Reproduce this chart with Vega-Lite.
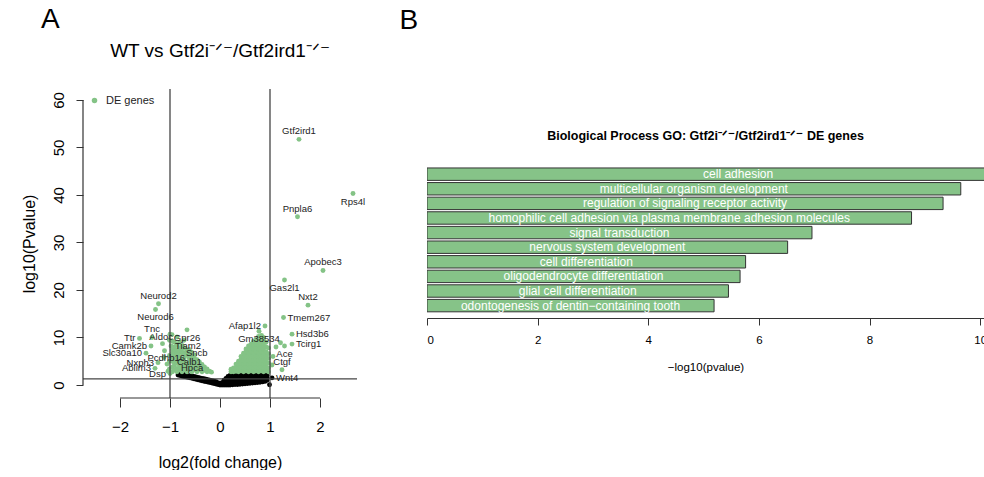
{
  "$schema": "https://vega.github.io/schema/vega-lite/v6.json",
  "padding": {"left": 20, "top": 6, "right": 0, "bottom": 0},
  "background": "white",
  "config": {
    "view": {"stroke": null},
    "font": "Liberation Sans",
    "title": {"fontWeight": "normal", "color": "black", "font": "Liberation Sans"},
    "axis": {"labelColor": "black", "titleColor": "black", "tickColor": "#333", "domainColor": "#333", "grid": false, "titleFontWeight": "normal", "labelFont": "Liberation Sans", "titleFont": "Liberation Sans"}
  },
  "datasets": {
    "genes": [
      {"lfc": -0.84, "lp": 2.1, "de": "ns"},
      {"lfc": -0.80, "lp": 2.0, "de": "ns"}, {"lfc": -0.80, "lp": 2.3, "de": "ns"},
      {"lfc": -0.76, "lp": 1.9, "de": "ns"}, {"lfc": -0.76, "lp": 2.2, "de": "ns"},
      {"lfc": -0.72, "lp": 1.8, "de": "ns"}, {"lfc": -0.72, "lp": 2.2, "de": "ns"},
      {"lfc": -0.68, "lp": 1.7, "de": "ns"}, {"lfc": -0.68, "lp": 2.1, "de": "ns"},
      {"lfc": -0.64, "lp": 1.6, "de": "ns"}, {"lfc": -0.64, "lp": 2.0, "de": "ns"},
      {"lfc": -0.60, "lp": 1.5, "de": "ns"}, {"lfc": -0.60, "lp": 1.9, "de": "ns"},
      {"lfc": -0.56, "lp": 1.4, "de": "ns"}, {"lfc": -0.56, "lp": 1.9, "de": "ns"},
      {"lfc": -0.52, "lp": 1.3, "de": "ns"}, {"lfc": -0.52, "lp": 1.8, "de": "ns"},
      {"lfc": -0.48, "lp": 1.2, "de": "ns"}, {"lfc": -0.48, "lp": 1.7, "de": "ns"},
      {"lfc": -0.44, "lp": 1.1, "de": "ns"}, {"lfc": -0.44, "lp": 1.6, "de": "ns"},
      {"lfc": -0.40, "lp": 1.0, "de": "ns"}, {"lfc": -0.40, "lp": 1.5, "de": "ns"},
      {"lfc": -0.36, "lp": 0.9, "de": "ns"}, {"lfc": -0.36, "lp": 1.4, "de": "ns"},
      {"lfc": -0.32, "lp": 0.8, "de": "ns"}, {"lfc": -0.32, "lp": 1.3, "de": "ns"},
      {"lfc": -0.28, "lp": 0.7, "de": "ns"}, {"lfc": -0.28, "lp": 1.2, "de": "ns"},
      {"lfc": -0.24, "lp": 0.6, "de": "ns"}, {"lfc": -0.24, "lp": 1.1, "de": "ns"},
      {"lfc": -0.20, "lp": 0.5, "de": "ns"}, {"lfc": -0.20, "lp": 1.0, "de": "ns"},
      {"lfc": -0.16, "lp": 0.4, "de": "ns"}, {"lfc": -0.16, "lp": 0.9, "de": "ns"},
      {"lfc": -0.12, "lp": 0.3, "de": "ns"}, {"lfc": -0.12, "lp": 0.8, "de": "ns"},
      {"lfc": -0.08, "lp": 0.2, "de": "ns"}, {"lfc": -0.08, "lp": 0.7, "de": "ns"},
      {"lfc": -0.04, "lp": 0.1, "de": "ns"}, {"lfc": -0.04, "lp": 0.5, "de": "ns"},
      {"lfc": 0.00, "lp": 0.0, "de": "ns"}, {"lfc": 0.00, "lp": 0.3, "de": "ns"},
      {"lfc": 0.04, "lp": 0.0, "de": "ns"}, {"lfc": 0.04, "lp": 0.5, "de": "ns"},
      {"lfc": 0.08, "lp": 0.0, "de": "ns"}, {"lfc": 0.08, "lp": 0.5, "de": "ns"}, {"lfc": 0.08, "lp": 1.0, "de": "ns"},
      {"lfc": 0.12, "lp": 0.0, "de": "ns"}, {"lfc": 0.12, "lp": 0.5, "de": "ns"}, {"lfc": 0.12, "lp": 1.0, "de": "ns"}, {"lfc": 0.12, "lp": 1.4, "de": "ns"},
      {"lfc": 0.16, "lp": 0.0, "de": "ns"}, {"lfc": 0.16, "lp": 0.5, "de": "ns"}, {"lfc": 0.16, "lp": 1.0, "de": "ns"}, {"lfc": 0.16, "lp": 1.5, "de": "ns"}, {"lfc": 0.16, "lp": 1.8, "de": "ns"},
      {"lfc": 0.20, "lp": 0.0, "de": "ns"}, {"lfc": 0.20, "lp": 0.5, "de": "ns"}, {"lfc": 0.20, "lp": 1.0, "de": "ns"}, {"lfc": 0.20, "lp": 1.5, "de": "ns"}, {"lfc": 0.20, "lp": 2.0, "de": "ns"},
      {"lfc": 0.25, "lp": 0.05, "de": "ns"}, {"lfc": 0.25, "lp": 0.55, "de": "ns"}, {"lfc": 0.25, "lp": 1.05, "de": "ns"}, {"lfc": 0.25, "lp": 1.55, "de": "ns"}, {"lfc": 0.25, "lp": 2.05, "de": "ns"},
      {"lfc": 0.30, "lp": 0.1, "de": "ns"}, {"lfc": 0.30, "lp": 0.6, "de": "ns"}, {"lfc": 0.30, "lp": 1.1, "de": "ns"}, {"lfc": 0.30, "lp": 1.6, "de": "ns"}, {"lfc": 0.30, "lp": 2.1, "de": "ns"},
      {"lfc": 0.35, "lp": 0.1, "de": "ns"}, {"lfc": 0.35, "lp": 0.6, "de": "ns"}, {"lfc": 0.35, "lp": 1.1, "de": "ns"}, {"lfc": 0.35, "lp": 1.6, "de": "ns"}, {"lfc": 0.35, "lp": 2.1, "de": "ns"},
      {"lfc": 0.40, "lp": 0.15, "de": "ns"}, {"lfc": 0.40, "lp": 0.65, "de": "ns"}, {"lfc": 0.40, "lp": 1.15, "de": "ns"}, {"lfc": 0.40, "lp": 1.65, "de": "ns"}, {"lfc": 0.40, "lp": 2.15, "de": "ns"},
      {"lfc": 0.45, "lp": 0.2, "de": "ns"}, {"lfc": 0.45, "lp": 0.7, "de": "ns"}, {"lfc": 0.45, "lp": 1.2, "de": "ns"}, {"lfc": 0.45, "lp": 1.7, "de": "ns"}, {"lfc": 0.45, "lp": 2.2, "de": "ns"},
      {"lfc": 0.50, "lp": 0.25, "de": "ns"}, {"lfc": 0.50, "lp": 0.75, "de": "ns"}, {"lfc": 0.50, "lp": 1.25, "de": "ns"}, {"lfc": 0.50, "lp": 1.75, "de": "ns"}, {"lfc": 0.50, "lp": 2.2, "de": "ns"},
      {"lfc": 0.55, "lp": 0.3, "de": "ns"}, {"lfc": 0.55, "lp": 0.8, "de": "ns"}, {"lfc": 0.55, "lp": 1.3, "de": "ns"}, {"lfc": 0.55, "lp": 1.8, "de": "ns"}, {"lfc": 0.55, "lp": 2.2, "de": "ns"},
      {"lfc": 0.60, "lp": 0.35, "de": "ns"}, {"lfc": 0.60, "lp": 0.85, "de": "ns"}, {"lfc": 0.60, "lp": 1.35, "de": "ns"}, {"lfc": 0.60, "lp": 1.85, "de": "ns"}, {"lfc": 0.60, "lp": 2.25, "de": "ns"},
      {"lfc": 0.65, "lp": 0.4, "de": "ns"}, {"lfc": 0.65, "lp": 0.9, "de": "ns"}, {"lfc": 0.65, "lp": 1.4, "de": "ns"}, {"lfc": 0.65, "lp": 1.9, "de": "ns"}, {"lfc": 0.65, "lp": 2.25, "de": "ns"},
      {"lfc": 0.70, "lp": 0.45, "de": "ns"}, {"lfc": 0.70, "lp": 0.95, "de": "ns"}, {"lfc": 0.70, "lp": 1.45, "de": "ns"}, {"lfc": 0.70, "lp": 1.95, "de": "ns"}, {"lfc": 0.70, "lp": 2.3, "de": "ns"},
      {"lfc": 0.75, "lp": 0.5, "de": "ns"}, {"lfc": 0.75, "lp": 1.0, "de": "ns"}, {"lfc": 0.75, "lp": 1.5, "de": "ns"}, {"lfc": 0.75, "lp": 2.0, "de": "ns"}, {"lfc": 0.75, "lp": 2.3, "de": "ns"},
      {"lfc": 0.80, "lp": 0.55, "de": "ns"}, {"lfc": 0.80, "lp": 1.05, "de": "ns"}, {"lfc": 0.80, "lp": 1.55, "de": "ns"}, {"lfc": 0.80, "lp": 2.05, "de": "ns"}, {"lfc": 0.80, "lp": 2.3, "de": "ns"},
      {"lfc": 0.85, "lp": 0.65, "de": "ns"}, {"lfc": 0.85, "lp": 1.15, "de": "ns"}, {"lfc": 0.85, "lp": 1.65, "de": "ns"}, {"lfc": 0.85, "lp": 2.15, "de": "ns"},
      {"lfc": 0.90, "lp": 0.75, "de": "ns"}, {"lfc": 0.90, "lp": 1.25, "de": "ns"}, {"lfc": 0.90, "lp": 1.75, "de": "ns"}, {"lfc": 0.90, "lp": 2.2, "de": "ns"},
      {"lfc": 0.94, "lp": 1.0, "de": "ns"}, {"lfc": 0.94, "lp": 1.5, "de": "ns"}, {"lfc": 0.94, "lp": 2.0, "de": "ns"},
      {"lfc": 0.99, "lp": 0.05, "de": "ns"},
      {"lfc": 1.04, "lp": 1.5, "de": "ns", "gene": "Wnt4", "pos": "right"},

      {"lfc": -1.15, "lp": 8.7, "de": "DE genes"}, {"lfc": -1.11, "lp": 7.2, "de": "DE genes"}, {"lfc": -1.06, "lp": 4.4, "de": "DE genes"}, {"lfc": -1.04, "lp": 2.9, "de": "DE genes"}, {"lfc": -1.12, "lp": 5.8, "de": "DE genes"},
      {"lfc": -1.01, "lp": 3.4, "de": "DE genes"}, {"lfc": -1.01, "lp": 5.0, "de": "DE genes"}, {"lfc": -1.01, "lp": 6.2, "de": "DE genes"}, {"lfc": -1.01, "lp": 9.4, "de": "DE genes"}, {"lfc": -1.0, "lp": 10.7, "de": "DE genes"},
      {"lfc": -0.95, "lp": 2.8, "de": "DE genes"}, {"lfc": -0.95, "lp": 3.8, "de": "DE genes"}, {"lfc": -0.95, "lp": 5.8, "de": "DE genes"}, {"lfc": -0.95, "lp": 6.8, "de": "DE genes"}, {"lfc": -0.95, "lp": 7.4, "de": "DE genes"}, {"lfc": -0.95, "lp": 9.2, "de": "DE genes"}, {"lfc": -0.96, "lp": 10.6, "de": "DE genes"},
      {"lfc": -0.91, "lp": 3.2, "de": "DE genes"}, {"lfc": -0.91, "lp": 4.2, "de": "DE genes"}, {"lfc": -0.91, "lp": 5.2, "de": "DE genes"}, {"lfc": -0.91, "lp": 6.2, "de": "DE genes"}, {"lfc": -0.91, "lp": 7.2, "de": "DE genes"}, {"lfc": -0.91, "lp": 8.0, "de": "DE genes"}, {"lfc": -0.91, "lp": 9.0, "de": "DE genes"},
      {"lfc": -0.86, "lp": 2.8, "de": "DE genes"}, {"lfc": -0.86, "lp": 4.6, "de": "DE genes"}, {"lfc": -0.86, "lp": 5.6, "de": "DE genes"}, {"lfc": -0.86, "lp": 6.6, "de": "DE genes"}, {"lfc": -0.86, "lp": 7.4, "de": "DE genes"}, {"lfc": -0.86, "lp": 8.4, "de": "DE genes"},
      {"lfc": -0.81, "lp": 3.2, "de": "DE genes"}, {"lfc": -0.81, "lp": 4.1, "de": "DE genes"}, {"lfc": -0.81, "lp": 5.0, "de": "DE genes"}, {"lfc": -0.81, "lp": 6.0, "de": "DE genes"}, {"lfc": -0.81, "lp": 7.0, "de": "DE genes"}, {"lfc": -0.81, "lp": 7.8, "de": "DE genes"}, {"lfc": -0.81, "lp": 9.0, "de": "DE genes"},
      {"lfc": -0.76, "lp": 2.8, "de": "DE genes"}, {"lfc": -0.76, "lp": 3.7, "de": "DE genes"}, {"lfc": -0.76, "lp": 4.6, "de": "DE genes"}, {"lfc": -0.76, "lp": 5.4, "de": "DE genes"}, {"lfc": -0.76, "lp": 7.6, "de": "DE genes"}, {"lfc": -0.76, "lp": 8.3, "de": "DE genes"},
      {"lfc": -0.71, "lp": 3.2, "de": "DE genes"}, {"lfc": -0.71, "lp": 4.1, "de": "DE genes"}, {"lfc": -0.71, "lp": 5.0, "de": "DE genes"}, {"lfc": -0.71, "lp": 5.9, "de": "DE genes"}, {"lfc": -0.71, "lp": 6.8, "de": "DE genes"}, {"lfc": -0.71, "lp": 7.8, "de": "DE genes"}, {"lfc": -0.72, "lp": 9.4, "de": "DE genes"},
      {"lfc": -0.66, "lp": 2.8, "de": "DE genes"}, {"lfc": -0.66, "lp": 3.6, "de": "DE genes"}, {"lfc": -0.66, "lp": 4.5, "de": "DE genes"}, {"lfc": -0.66, "lp": 6.4, "de": "DE genes"}, {"lfc": -0.66, "lp": 7.2, "de": "DE genes"},
      {"lfc": -0.61, "lp": 3.2, "de": "DE genes"}, {"lfc": -0.61, "lp": 4.0, "de": "DE genes"}, {"lfc": -0.61, "lp": 4.8, "de": "DE genes"}, {"lfc": -0.61, "lp": 6.6, "de": "DE genes"}, {"lfc": -0.62, "lp": 7.5, "de": "DE genes"},
      {"lfc": -0.56, "lp": 2.8, "de": "DE genes"}, {"lfc": -0.56, "lp": 3.6, "de": "DE genes"}, {"lfc": -0.56, "lp": 4.4, "de": "DE genes"}, {"lfc": -0.56, "lp": 5.2, "de": "DE genes"}, {"lfc": -0.56, "lp": 6.0, "de": "DE genes"}, {"lfc": -0.57, "lp": 6.9, "de": "DE genes"},
      {"lfc": -0.51, "lp": 3.2, "de": "DE genes"}, {"lfc": -0.51, "lp": 4.0, "de": "DE genes"}, {"lfc": -0.51, "lp": 4.8, "de": "DE genes"}, {"lfc": -0.51, "lp": 5.6, "de": "DE genes"}, {"lfc": -0.51, "lp": 6.3, "de": "DE genes"},
      {"lfc": -0.46, "lp": 2.8, "de": "DE genes"}, {"lfc": -0.46, "lp": 3.6, "de": "DE genes"}, {"lfc": -0.46, "lp": 4.4, "de": "DE genes"}, {"lfc": -0.46, "lp": 5.3, "de": "DE genes"},
      {"lfc": -0.41, "lp": 3.2, "de": "DE genes"}, {"lfc": -0.41, "lp": 4.0, "de": "DE genes"}, {"lfc": -0.41, "lp": 4.8, "de": "DE genes"},
      {"lfc": -0.36, "lp": 2.8, "de": "DE genes"}, {"lfc": -0.36, "lp": 3.6, "de": "DE genes"}, {"lfc": -0.36, "lp": 4.3, "de": "DE genes"},
      {"lfc": -0.31, "lp": 3.1, "de": "DE genes"}, {"lfc": -0.31, "lp": 3.8, "de": "DE genes"},
      {"lfc": -0.26, "lp": 2.8, "de": "DE genes"}, {"lfc": -0.26, "lp": 3.4, "de": "DE genes"},
      {"lfc": -0.21, "lp": 2.9, "de": "DE genes"}, {"lfc": -0.17, "lp": 2.7, "de": "DE genes"},

      {"lfc": 0.22, "lp": 2.8, "de": "DE genes"}, {"lfc": 0.22, "lp": 3.3, "de": "DE genes"},
      {"lfc": 0.27, "lp": 2.8, "de": "DE genes"}, {"lfc": 0.27, "lp": 3.6, "de": "DE genes"},
      {"lfc": 0.32, "lp": 2.9, "de": "DE genes"}, {"lfc": 0.32, "lp": 3.7, "de": "DE genes"}, {"lfc": 0.32, "lp": 4.4, "de": "DE genes"},
      {"lfc": 0.37, "lp": 2.8, "de": "DE genes"}, {"lfc": 0.37, "lp": 3.6, "de": "DE genes"}, {"lfc": 0.37, "lp": 4.4, "de": "DE genes"}, {"lfc": 0.37, "lp": 5.0, "de": "DE genes"},
      {"lfc": 0.42, "lp": 3.0, "de": "DE genes"}, {"lfc": 0.42, "lp": 3.8, "de": "DE genes"}, {"lfc": 0.42, "lp": 4.6, "de": "DE genes"}, {"lfc": 0.42, "lp": 5.4, "de": "DE genes"}, {"lfc": 0.42, "lp": 6.0, "de": "DE genes"},
      {"lfc": 0.47, "lp": 2.8, "de": "DE genes"}, {"lfc": 0.47, "lp": 3.6, "de": "DE genes"}, {"lfc": 0.47, "lp": 4.4, "de": "DE genes"}, {"lfc": 0.47, "lp": 5.2, "de": "DE genes"}, {"lfc": 0.47, "lp": 6.0, "de": "DE genes"}, {"lfc": 0.47, "lp": 6.7, "de": "DE genes"},
      {"lfc": 0.52, "lp": 3.0, "de": "DE genes"}, {"lfc": 0.52, "lp": 3.8, "de": "DE genes"}, {"lfc": 0.52, "lp": 4.6, "de": "DE genes"}, {"lfc": 0.52, "lp": 5.4, "de": "DE genes"}, {"lfc": 0.52, "lp": 6.2, "de": "DE genes"}, {"lfc": 0.52, "lp": 7.0, "de": "DE genes"}, {"lfc": 0.52, "lp": 7.6, "de": "DE genes"},
      {"lfc": 0.57, "lp": 2.8, "de": "DE genes"}, {"lfc": 0.57, "lp": 3.6, "de": "DE genes"}, {"lfc": 0.57, "lp": 4.4, "de": "DE genes"}, {"lfc": 0.57, "lp": 5.2, "de": "DE genes"}, {"lfc": 0.57, "lp": 6.0, "de": "DE genes"}, {"lfc": 0.57, "lp": 6.8, "de": "DE genes"}, {"lfc": 0.57, "lp": 7.6, "de": "DE genes"}, {"lfc": 0.57, "lp": 8.2, "de": "DE genes"},
      {"lfc": 0.62, "lp": 3.0, "de": "DE genes"}, {"lfc": 0.62, "lp": 3.8, "de": "DE genes"}, {"lfc": 0.62, "lp": 4.6, "de": "DE genes"}, {"lfc": 0.62, "lp": 5.4, "de": "DE genes"}, {"lfc": 0.62, "lp": 6.2, "de": "DE genes"}, {"lfc": 0.62, "lp": 7.0, "de": "DE genes"}, {"lfc": 0.62, "lp": 7.8, "de": "DE genes"}, {"lfc": 0.62, "lp": 8.6, "de": "DE genes"},
      {"lfc": 0.67, "lp": 2.8, "de": "DE genes"}, {"lfc": 0.67, "lp": 3.6, "de": "DE genes"}, {"lfc": 0.67, "lp": 4.4, "de": "DE genes"}, {"lfc": 0.67, "lp": 5.2, "de": "DE genes"}, {"lfc": 0.67, "lp": 6.0, "de": "DE genes"}, {"lfc": 0.67, "lp": 6.8, "de": "DE genes"}, {"lfc": 0.67, "lp": 7.6, "de": "DE genes"}, {"lfc": 0.67, "lp": 8.4, "de": "DE genes"}, {"lfc": 0.67, "lp": 9.2, "de": "DE genes"},
      {"lfc": 0.72, "lp": 3.0, "de": "DE genes"}, {"lfc": 0.72, "lp": 3.8, "de": "DE genes"}, {"lfc": 0.72, "lp": 4.6, "de": "DE genes"}, {"lfc": 0.72, "lp": 5.4, "de": "DE genes"}, {"lfc": 0.72, "lp": 6.2, "de": "DE genes"}, {"lfc": 0.72, "lp": 7.0, "de": "DE genes"}, {"lfc": 0.72, "lp": 7.8, "de": "DE genes"}, {"lfc": 0.72, "lp": 8.6, "de": "DE genes"}, {"lfc": 0.72, "lp": 9.6, "de": "DE genes"},
      {"lfc": 0.77, "lp": 2.8, "de": "DE genes"}, {"lfc": 0.77, "lp": 3.6, "de": "DE genes"}, {"lfc": 0.77, "lp": 4.4, "de": "DE genes"}, {"lfc": 0.77, "lp": 5.2, "de": "DE genes"}, {"lfc": 0.77, "lp": 6.0, "de": "DE genes"}, {"lfc": 0.77, "lp": 6.8, "de": "DE genes"}, {"lfc": 0.77, "lp": 7.6, "de": "DE genes"}, {"lfc": 0.77, "lp": 8.4, "de": "DE genes"}, {"lfc": 0.77, "lp": 9.2, "de": "DE genes"}, {"lfc": 0.77, "lp": 10.2, "de": "DE genes"},
      {"lfc": 0.82, "lp": 3.0, "de": "DE genes"}, {"lfc": 0.82, "lp": 3.8, "de": "DE genes"}, {"lfc": 0.82, "lp": 4.6, "de": "DE genes"}, {"lfc": 0.82, "lp": 5.4, "de": "DE genes"}, {"lfc": 0.82, "lp": 6.2, "de": "DE genes"}, {"lfc": 0.82, "lp": 7.0, "de": "DE genes"}, {"lfc": 0.82, "lp": 7.8, "de": "DE genes"}, {"lfc": 0.82, "lp": 8.6, "de": "DE genes"}, {"lfc": 0.82, "lp": 9.4, "de": "DE genes"}, {"lfc": 0.83, "lp": 10.4, "de": "DE genes"},
      {"lfc": 0.87, "lp": 2.8, "de": "DE genes"}, {"lfc": 0.87, "lp": 3.6, "de": "DE genes"}, {"lfc": 0.87, "lp": 4.4, "de": "DE genes"}, {"lfc": 0.87, "lp": 5.2, "de": "DE genes"}, {"lfc": 0.87, "lp": 6.0, "de": "DE genes"}, {"lfc": 0.87, "lp": 6.8, "de": "DE genes"}, {"lfc": 0.87, "lp": 7.6, "de": "DE genes"}, {"lfc": 0.87, "lp": 8.4, "de": "DE genes"}, {"lfc": 0.87, "lp": 9.2, "de": "DE genes"}, {"lfc": 0.87, "lp": 10.0, "de": "DE genes"},
      {"lfc": 0.92, "lp": 3.0, "de": "DE genes"}, {"lfc": 0.92, "lp": 3.8, "de": "DE genes"}, {"lfc": 0.92, "lp": 4.6, "de": "DE genes"}, {"lfc": 0.92, "lp": 5.4, "de": "DE genes"}, {"lfc": 0.92, "lp": 6.2, "de": "DE genes"}, {"lfc": 0.92, "lp": 7.0, "de": "DE genes"}, {"lfc": 0.92, "lp": 8.0, "de": "DE genes"}, {"lfc": 0.92, "lp": 9.0, "de": "DE genes"},
      {"lfc": 0.97, "lp": 2.8, "de": "DE genes"}, {"lfc": 0.97, "lp": 3.6, "de": "DE genes"}, {"lfc": 0.97, "lp": 4.6, "de": "DE genes"}, {"lfc": 0.97, "lp": 5.6, "de": "DE genes"}, {"lfc": 0.97, "lp": 6.6, "de": "DE genes"}, {"lfc": 0.97, "lp": 7.8, "de": "DE genes"},
      {"lfc": 1.04, "lp": 4.2, "de": "DE genes"}, {"lfc": 1.06, "lp": 6.0, "de": "DE genes"}, {"lfc": 1.12, "lp": 8.0, "de": "DE genes"}, {"lfc": 1.21, "lp": 8.9, "de": "DE genes"},

      {"lfc": 1.58, "lp": 51.7, "de": "DE genes", "gene": "Gtf2ird1", "pos": "above"},
      {"lfc": 2.66, "lp": 40.3, "de": "DE genes", "gene": "Rps4l", "pos": "below"},
      {"lfc": 1.55, "lp": 35.4, "de": "DE genes", "gene": "Pnpla6", "pos": "above"},
      {"lfc": 2.06, "lp": 24.1, "de": "DE genes", "gene": "Apobec3", "pos": "above"},
      {"lfc": 1.29, "lp": 22.1, "de": "DE genes", "gene": "Gas2l1", "pos": "below"},
      {"lfc": 1.76, "lp": 16.8, "de": "DE genes", "gene": "Nxt2", "pos": "above"},
      {"lfc": 1.27, "lp": 14.2, "de": "DE genes", "gene": "Tmem267", "pos": "right"},
      {"lfc": 1.44, "lp": 10.7, "de": "DE genes", "gene": "Hsd3b6", "pos": "right"},
      {"lfc": 1.44, "lp": 8.6, "de": "DE genes", "gene": "Tcirg1", "pos": "right"},
      {"lfc": 1.29, "lp": 8.2, "de": "DE genes", "gene": "Ace", "pos": "below"},
      {"lfc": 1.24, "lp": 3.2, "de": "DE genes", "gene": "Ctgf", "pos": "above"},
      {"lfc": 0.90, "lp": 12.4, "de": "DE genes", "gene": "Afap1l2", "pos": "left"},
      {"lfc": 0.78, "lp": 11.3, "de": "DE genes", "gene": "Gm38534", "pos": "below"},
      {"lfc": -1.23, "lp": 17.1, "de": "DE genes", "gene": "Neurod2", "pos": "above"},
      {"lfc": -1.29, "lp": 15.9, "de": "DE genes", "gene": "Neurod6", "pos": "below"},
      {"lfc": -1.36, "lp": 10.0, "de": "DE genes", "gene": "Tnc", "pos": "above"},
      {"lfc": -1.61, "lp": 9.8, "de": "DE genes", "gene": "Ttr", "pos": "left"},
      {"lfc": -0.86, "lp": 10.1, "de": "DE genes", "gene": "Aldoc", "pos": "left"},
      {"lfc": -1.38, "lp": 8.2, "de": "DE genes", "gene": "Camk2b", "pos": "left"},
      {"lfc": -1.48, "lp": 6.7, "de": "DE genes", "gene": "Slc30a10", "pos": "left"},
      {"lfc": -1.24, "lp": 4.7, "de": "DE genes", "gene": "Nxph3", "pos": "left"},
      {"lfc": -1.30, "lp": 3.5, "de": "DE genes", "gene": "Ablim3", "pos": "left"},
      {"lfc": -1.00, "lp": 2.4, "de": "DE genes", "gene": "Dsp", "pos": "left"},
      {"lfc": -0.66, "lp": 11.6, "de": "DE genes", "gene": "Gpr26", "pos": "below"},
      {"lfc": -0.98, "lp": 8.2, "de": "DE genes", "gene": "Tiam2", "pos": "right"},
      {"lfc": -0.76, "lp": 6.8, "de": "DE genes", "gene": "Sncb", "pos": "right"},
      {"lfc": -0.62, "lp": 5.7, "de": "DE genes", "gene": "Pcdhb16", "pos": "left"},
      {"lfc": -0.94, "lp": 4.9, "de": "DE genes", "gene": "Calb1", "pos": "right"},
      {"lfc": -0.86, "lp": 3.5, "de": "DE genes", "gene": "Hpca", "pos": "right"}
    ],
    "go": [
      {"term": "cell adhesion", "nlp": 11.25},
      {"term": "multicellular organism development", "nlp": 9.65},
      {"term": "regulation of signaling receptor activity", "nlp": 9.33},
      {"term": "homophilic cell adhesion via plasma membrane adhesion molecules", "nlp": 8.76},
      {"term": "signal transduction", "nlp": 6.96},
      {"term": "nervous system development", "nlp": 6.52},
      {"term": "cell differentiation", "nlp": 5.76},
      {"term": "oligodendrocyte differentiation", "nlp": 5.66},
      {"term": "glial cell differentiation", "nlp": 5.45},
      {"term": "odontogenesis of dentin−containing tooth", "nlp": 5.19}
    ]
  },
  "spacing": 33,
  "hconcat": [
    {
      "title": {"text": "A", "fontSize": 28, "anchor": "start", "frame": "bounds", "offset": 8, "dx": 20},
      "vconcat": [
        {
          "width": 274,
          "height": 309,
          "title": {"text": "WT vs Gtf2i⁻ᐟ⁻/Gtf2ird1⁻ᐟ⁻", "fontSize": 19, "frame": "group", "anchor": "middle", "offset": 27},
          "data": {"name": "genes"},
          "layer": [
            {
              "mark": {"type": "circle", "size": 24, "opacity": 1},
              "encoding": {
                "x": {"field": "lfc", "type": "quantitative",
                  "scale": {"domain": [-2.74, 2.74], "nice": false, "zero": false},
                  "axis": {"values": [-2, -1, 0, 1, 2], "domain": false, "tickSize": 9, "tickColor": "#333", "labelFontSize": 15, "labelPadding": 12, "title": "log2(fold change)", "titleFontSize": 16, "titlePadding": 20}},
                "y": {"field": "lp", "type": "quantitative",
                  "scale": {"domain": [-2.74, 62.3], "nice": false, "zero": false},
                  "axis": {"values": [0, 10, 20, 30, 40, 50, 60], "domain": false, "tickSize": 7, "tickColor": "#333", "labelFontSize": 15, "labelAngle": -90, "labelAlign": "center", "labelBaseline": "bottom", "labelPadding": 10, "title": "log10(Pvalue)", "titleFontSize": 16, "titlePadding": 14}},
                "color": {"field": "de", "type": "nominal",
                  "scale": {"domain": ["DE genes", "ns"], "range": ["#84c386", "#000000"]},
                  "legend": {"orient": "none", "legendX": 6, "legendY": 6, "title": null, "values": ["DE genes"], "labelFontSize": 11, "symbolType": "circle", "symbolSize": 30, "padding": 0, "labelOffset": 6, "labelColor": "#222"}}
              }
            },
            {
              "data": {"values": [{"t": -1}, {"t": 1}]},
              "mark": {"type": "rule", "color": "#444", "strokeWidth": 1.3},
              "encoding": {"x": {"field": "t", "type": "quantitative"}}
            },
            {
              "data": {"values": [{"p": 1.3}]},
              "mark": {"type": "rule", "color": "#444", "strokeWidth": 1.3},
              "encoding": {"y": {"field": "p", "type": "quantitative"}}
            },
            {
              "data": {"values": [{"a": -2, "b": 2, "c": -2.74}]},
              "mark": {"type": "rule", "color": "#333", "strokeWidth": 1.2},
              "encoding": {"x": {"field": "a", "type": "quantitative"}, "x2": {"field": "b"}, "y": {"field": "c", "type": "quantitative"}}
            },
            {
              "data": {"values": [{"a": -2.74, "b": 0, "c": 60}]},
              "mark": {"type": "rule", "color": "#333", "strokeWidth": 1.2},
              "encoding": {"x": {"field": "a", "type": "quantitative"}, "y": {"field": "b", "type": "quantitative"}, "y2": {"field": "c"}}
            },
            {
              "transform": [{"filter": "datum.pos == 'above'"}],
              "mark": {"type": "text", "fontSize": 9.5, "color": "#222", "baseline": "bottom", "dy": -3},
              "encoding": {"x": {"field": "lfc", "type": "quantitative"}, "y": {"field": "lp", "type": "quantitative"}, "text": {"field": "gene"}}
            },
            {
              "transform": [{"filter": "datum.pos == 'below'"}],
              "mark": {"type": "text", "fontSize": 9.5, "color": "#222", "baseline": "top", "dy": 3},
              "encoding": {"x": {"field": "lfc", "type": "quantitative"}, "y": {"field": "lp", "type": "quantitative"}, "text": {"field": "gene"}}
            },
            {
              "transform": [{"filter": "datum.pos == 'left'"}],
              "mark": {"type": "text", "fontSize": 9.5, "color": "#222", "align": "right", "baseline": "middle", "dx": -4},
              "encoding": {"x": {"field": "lfc", "type": "quantitative"}, "y": {"field": "lp", "type": "quantitative"}, "text": {"field": "gene"}}
            },
            {
              "transform": [{"filter": "datum.pos == 'right'"}],
              "mark": {"type": "text", "fontSize": 9.5, "color": "#222", "align": "left", "baseline": "middle", "dx": 4},
              "encoding": {"x": {"field": "lfc", "type": "quantitative"}, "y": {"field": "lp", "type": "quantitative"}, "text": {"field": "gene"}}
            }
          ]
        }
      ]
    },
    {
      "title": {"text": "B", "fontSize": 28, "anchor": "start", "frame": "bounds", "offset": 54, "dx": -27},
      "vconcat": [
        {
          "width": 557,
          "height": 229,
          "title": {"text": "Biological Process GO: Gtf2i⁻ᐟ⁻/Gtf2ird1⁻ᐟ⁻ DE genes", "fontSize": 12.5, "fontWeight": "bold", "frame": "group", "anchor": "middle", "offset": -53},
          "data": {"name": "go"},
          "encoding": {
            "y": {"field": "term", "type": "nominal", "axis": null,
              "scale": {
                "domain": ["_a", "_b", "_c", "_d", "_e",
                  "cell adhesion", "multicellular organism development", "regulation of signaling receptor activity",
                  "homophilic cell adhesion via plasma membrane adhesion molecules", "signal transduction",
                  "nervous system development", "cell differentiation", "oligodendrocyte differentiation",
                  "glial cell differentiation", "odontogenesis of dentin−containing tooth"],
                "paddingInner": 0.15, "paddingOuter": 0.415, "align": 0.49}}
          },
          "layer": [
            {
              "mark": {"type": "bar", "fill": "#86c388", "stroke": "#333", "strokeWidth": 1, "clip": true},
              "encoding": {
                "x": {"field": "nlp", "type": "quantitative",
                  "scale": {"domain": [0, 10.07], "nice": false, "zero": true},
                  "axis": {"values": [0, 2, 4, 6, 8, 10], "tickSize": 7, "labelFontSize": 11.5, "labelPadding": 9, "title": "−log10(pvalue)", "titleFontSize": 11.5, "titlePadding": 16, "domainColor": "#333", "tickColor": "#333"}}
              }
            },
            {
              "transform": [{"calculate": "datum.nlp / 2", "as": "mid"}],
              "mark": {"type": "text", "color": "white", "fontSize": 12, "baseline": "middle", "align": "center"},
              "encoding": {
                "x": {"field": "mid", "type": "quantitative"},
                "text": {"field": "term"}
              }
            }
          ]
        }
      ]
    }
  ]
}
